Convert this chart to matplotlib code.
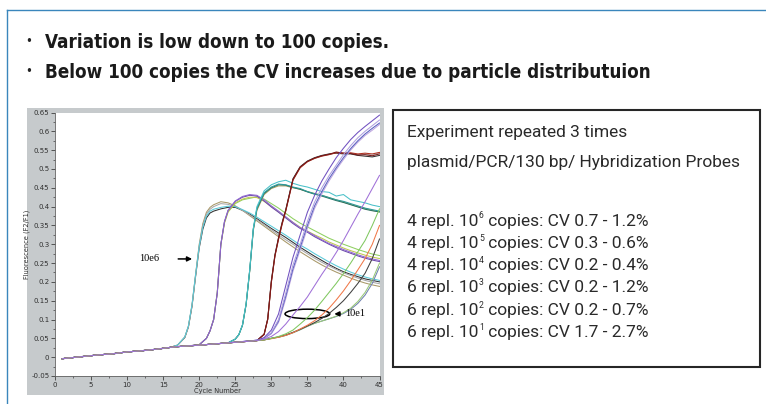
import matplotlib
matplotlib.use("Agg")
import matplotlib.pyplot as plt
from matplotlib.patches import Rectangle, Ellipse
from matplotlib.lines import Line2D
from matplotlib.ticker import MultipleLocator
from matplotlib import font_manager

W, H = 766, 404

# ─── Header bullets ───────────────────────────────────────────────────────────
BULLETS = [
    "Variation is low down to 100 copies.",
    "Below 100 copies the CV increases due to particle distributuion",
]

# ─── Summary box text ─────────────────────────────────────────────────────────
BOX_HEAD = ["Experiment repeated 3 times",
            "plasmid/PCR/130 bp/ Hybridization Probes"]
REPLICATES = [4, 4, 4, 6, 6, 6]
EXPONENTS = [6, 5, 4, 3, 2, 1]
CV_LOW = [0.7, 0.3, 0.2, 0.2, 0.2, 1.7]
CV_HIGH = [1.2, 0.6, 0.4, 1.2, 0.7, 2.7]

# ─── Amplification curves (cycle number vs fluorescence F2/F1) ───────────────
BASE_CYC = [1, 2, 4, 6, 8, 10, 12, 14, 16]
BASE_VAL = [-0.004, -0.002, 0.002, 0.006, 0.009, 0.014, 0.017, 0.021, 0.026]

# 10^6 copies
C6 = [17, 18, 18.5, 19, 19.5, 20, 20.5, 21, 21.5, 22, 23, 24, 25, 26, 27, 28,
      29, 30, 31, 32, 33, 34, 35, 36, 37, 38, 39, 40, 41, 42, 43, 44, 45]
F6 = [
    [0.032, 0.052, 0.08, 0.135, 0.215, 0.29, 0.34, 0.37, 0.383, 0.388, 0.394,
     0.398, 0.398, 0.39, 0.38, 0.368, 0.355, 0.342, 0.33, 0.318, 0.305, 0.292,
     0.28, 0.268, 0.257, 0.246, 0.236, 0.227, 0.22, 0.214, 0.208, 0.204, 0.20],
    [0.032, 0.053, 0.082, 0.138, 0.22, 0.3, 0.355, 0.385, 0.398, 0.405, 0.413,
     0.41, 0.402, 0.39, 0.376, 0.362, 0.348, 0.334, 0.32, 0.306, 0.293, 0.28,
     0.268, 0.256, 0.245, 0.235, 0.226, 0.218, 0.21, 0.203, 0.197, 0.192, 0.188],
    [0.032, 0.053, 0.081, 0.137, 0.218, 0.295, 0.35, 0.38, 0.393, 0.4, 0.408,
     0.406, 0.4, 0.39, 0.378, 0.365, 0.352, 0.338, 0.325, 0.312, 0.3, 0.287,
     0.275, 0.263, 0.252, 0.242, 0.233, 0.224, 0.217, 0.21, 0.204, 0.199, 0.195],
    [0.032, 0.054, 0.083, 0.14, 0.22, 0.295, 0.345, 0.375, 0.388, 0.393, 0.398,
     0.401, 0.4, 0.392, 0.383, 0.372, 0.36, 0.348, 0.336, 0.324, 0.311, 0.298,
     0.287, 0.275, 0.264, 0.253, 0.243, 0.234, 0.226, 0.219, 0.213, 0.208, 0.204],
]
COL6 = ["#303030", "#a89868", "#a8a8a8", "#58c8d8"]

# 10^5 copies
C5 = [17, 19, 20, 21, 21.5, 22, 22.5, 23, 23.5, 24, 25, 26, 27, 28, 29, 30, 31,
      32, 33, 34, 35, 36, 37, 38, 39, 40, 41, 42, 43, 44, 45]
F5 = [
    [0.028, 0.031, 0.033, 0.05, 0.07, 0.1, 0.172, 0.3, 0.358, 0.386, 0.408,
     0.418, 0.422, 0.426, 0.42, 0.408, 0.396, 0.382, 0.368, 0.356, 0.346, 0.336,
     0.326, 0.316, 0.308, 0.3, 0.293, 0.286, 0.28, 0.274, 0.27],
    [0.028, 0.031, 0.033, 0.05, 0.07, 0.1, 0.17, 0.298, 0.356, 0.386, 0.41,
     0.42, 0.425, 0.424, 0.414, 0.4, 0.386, 0.372, 0.358, 0.345, 0.335, 0.325,
     0.316, 0.306, 0.298, 0.29, 0.283, 0.277, 0.271, 0.266, 0.262],
    [0.028, 0.031, 0.033, 0.05, 0.07, 0.1, 0.17, 0.3, 0.36, 0.39, 0.414, 0.425,
     0.43, 0.428, 0.415, 0.399, 0.385, 0.37, 0.355, 0.342, 0.332, 0.32, 0.31,
     0.3, 0.291, 0.283, 0.276, 0.269, 0.263, 0.258, 0.254],
    [0.028, 0.031, 0.033, 0.05, 0.07, 0.1, 0.17, 0.3, 0.36, 0.39, 0.415, 0.427,
     0.432, 0.43, 0.418, 0.402, 0.388, 0.373, 0.358, 0.344, 0.334, 0.323, 0.312,
     0.302, 0.294, 0.286, 0.279, 0.272, 0.266, 0.261, 0.257],
]
COL5 = ["#8fd060", "#c0c850", "#6a48a8", "#9068d0"]

# 10^4 copies
C4 = [17, 20, 22, 24, 25, 25.5, 26, 26.5, 27, 27.5, 28, 29, 30, 31, 32, 33,
      34, 35, 36, 37, 38, 39, 40, 41, 42, 43, 44, 45]
F4 = [
    [0.028, 0.032, 0.035, 0.038, 0.048, 0.06, 0.085, 0.14, 0.228, 0.336, 0.39,
     0.432, 0.448, 0.455, 0.455, 0.45, 0.446, 0.44, 0.435, 0.43, 0.424, 0.418,
     0.412, 0.406, 0.4, 0.395, 0.39, 0.386],
    [0.028, 0.032, 0.035, 0.038, 0.048, 0.06, 0.085, 0.14, 0.23, 0.34, 0.394,
     0.435, 0.45, 0.458, 0.457, 0.451, 0.446, 0.439, 0.433, 0.428, 0.422,
     0.416, 0.411, 0.405, 0.399, 0.393, 0.389, 0.386],
    [0.028, 0.032, 0.035, 0.038, 0.048, 0.06, 0.085, 0.14, 0.23, 0.34, 0.395,
     0.437, 0.452, 0.46, 0.458, 0.452, 0.448, 0.44, 0.434, 0.43, 0.424, 0.418,
     0.414, 0.408, 0.402, 0.396, 0.392, 0.388],
    [0.028, 0.032, 0.035, 0.038, 0.048, 0.06, 0.086, 0.142, 0.232, 0.342, 0.4,
     0.442, 0.458, 0.466, 0.47, 0.462, 0.456, 0.452, 0.446, 0.44, 0.438, 0.428,
     0.432, 0.418, 0.414, 0.41, 0.404, 0.4],
]
COL4 = ["#a8a060", "#2a7060", "#2a9a9a", "#48c0c8"]

# 10^3 copies
C3 = [17, 20, 24, 28, 29, 29.5, 30, 30.5, 31, 31.5, 32, 33, 34, 35, 36, 37,
      38, 39, 40, 41, 42, 43, 44, 45]
F3 = [
    [0.028, 0.032, 0.038, 0.044, 0.06, 0.1, 0.2, 0.27, 0.315, 0.355, 0.39,
     0.472, 0.505, 0.52, 0.528, 0.535, 0.538, 0.544, 0.541, 0.542, 0.538, 0.54,
     0.537, 0.543],
    [0.028, 0.032, 0.038, 0.044, 0.061, 0.102, 0.203, 0.272, 0.318, 0.358,
     0.392, 0.474, 0.506, 0.521, 0.53, 0.536, 0.54, 0.542, 0.54, 0.54, 0.536,
     0.534, 0.532, 0.536],
    [0.028, 0.032, 0.038, 0.044, 0.06, 0.1, 0.198, 0.268, 0.313, 0.353, 0.388,
     0.47, 0.503, 0.519, 0.528, 0.534, 0.538, 0.543, 0.542, 0.543, 0.54, 0.542,
     0.54, 0.544],
    [0.028, 0.032, 0.038, 0.044, 0.061, 0.101, 0.2, 0.27, 0.316, 0.356, 0.39,
     0.472, 0.505, 0.52, 0.529, 0.535, 0.539, 0.545, 0.542, 0.541, 0.537,
     0.538, 0.535, 0.54],
]
COL3 = ["#b8b8b8", "#303030", "#b03020", "#7a1818"]

# 10^2 copies
C2 = [17, 20, 24, 28, 29, 30, 31, 32, 33, 34, 35, 36, 37, 38, 39, 40, 41, 42,
      43, 44, 45]
F2 = [
    [0.028, 0.032, 0.038, 0.045, 0.05, 0.062, 0.092, 0.155, 0.228, 0.285,
     0.342, 0.395, 0.434, 0.468, 0.498, 0.525, 0.55, 0.571, 0.589, 0.603, 0.618],
    [0.028, 0.032, 0.038, 0.045, 0.05, 0.064, 0.096, 0.162, 0.235, 0.292, 0.35,
     0.402, 0.44, 0.474, 0.503, 0.53, 0.554, 0.575, 0.593, 0.608, 0.622],
    [0.028, 0.032, 0.038, 0.045, 0.05, 0.065, 0.1, 0.17, 0.245, 0.3, 0.36,
     0.412, 0.45, 0.482, 0.51, 0.538, 0.562, 0.583, 0.6, 0.615, 0.63],
    [0.028, 0.032, 0.038, 0.045, 0.052, 0.072, 0.115, 0.19, 0.265, 0.325,
     0.385, 0.43, 0.468, 0.5, 0.53, 0.555, 0.578, 0.597, 0.613, 0.628, 0.643],
]
COL2 = ["#c0a8e0", "#5a60c0", "#b0a0e0", "#7050c0"]

# 10^1 copies
C1 = [17, 20, 24, 28, 29, 30, 31, 32, 33, 34, 35, 36, 37, 38, 39, 40, 41, 42,
      43, 44, 45]
F1 = [
    [0.028, 0.032, 0.038, 0.044, 0.046, 0.05, 0.053, 0.058, 0.065, 0.073,
     0.082, 0.09, 0.096, 0.102, 0.108, 0.116, 0.127, 0.143, 0.165, 0.196, 0.24],
    [0.028, 0.032, 0.038, 0.044, 0.046, 0.05, 0.053, 0.058, 0.065, 0.073,
     0.082, 0.09, 0.096, 0.102, 0.109, 0.118, 0.13, 0.148, 0.172, 0.205, 0.25],
    [0.028, 0.032, 0.038, 0.044, 0.046, 0.05, 0.054, 0.059, 0.066, 0.074,
     0.083, 0.092, 0.103, 0.116, 0.132, 0.15, 0.172, 0.196, 0.223, 0.262, 0.314],
    [0.028, 0.032, 0.038, 0.044, 0.046, 0.049, 0.053, 0.058, 0.065, 0.075,
     0.085, 0.097, 0.112, 0.13, 0.152, 0.176, 0.203, 0.232, 0.262, 0.3, 0.35],
    [0.028, 0.032, 0.038, 0.044, 0.046, 0.05, 0.055, 0.062, 0.072, 0.088,
     0.105, 0.125, 0.148, 0.172, 0.196, 0.222, 0.25, 0.28, 0.31, 0.35, 0.394],
    [0.028, 0.032, 0.038, 0.044, 0.048, 0.055, 0.068, 0.088, 0.112, 0.135,
     0.16, 0.19, 0.22, 0.248, 0.278, 0.31, 0.345, 0.38, 0.413, 0.448, 0.483],
]
COL1 = ["#7080b0", "#98c878", "#404040", "#f07848", "#80c860", "#a070d8"]

GROUPS = [(C6, F6, COL6), (C5, F5, COL5), (C4, F4, COL4),
          (C3, F3, COL3), (C2, F2, COL2), (C1, F1, COL1)]


def fx(px):
    return px / W


def fy(py):
    return 1 - py / H


fig = plt.figure(figsize=(W / 100, H / 100), dpi=100)
fig.patch.set_facecolor("white")
renderer = fig.canvas.get_renderer()

# blue frame, left and top
fig.add_artist(Line2D([fx(7), fx(7)], [fy(10), fy(404)], color="#3a86bc",
                      lw=1.0, transform=fig.transFigure))
fig.add_artist(Line2D([fx(7), fx(766)], [fy(10), fy(10)], color="#3a86bc",
                      lw=1.0, transform=fig.transFigure))

# bullets -- condensed bold face
header_props = font_manager.FontProperties(family="DejaVu Sans",
                                           weight="bold", stretch="condensed",
                                           size=13.5)
for i, line in enumerate(BULLETS):
    y = fy(42 + 30 * i)
    fig.text(fx(25), y, "•", fontsize=8.5, va="center", color="#222222")
    fig.text(fx(45), y, line, fontproperties=header_props, va="center",
             color="#1a1a1a")

# grey panel behind the chart
fig.add_artist(Rectangle((fx(27), fy(395)), fx(384) - fx(27), fy(108) - fy(395),
                         transform=fig.transFigure, facecolor="#c6cacc",
                         edgecolor="none", zorder=0))

ax = fig.add_axes([fx(55), fy(376), fx(379.5) - fx(55), fy(112.5) - fy(376)])
ax.set_facecolor("white")
ax.set_zorder(2)

for cyc, rows, cols in GROUPS:
    for vals, col in zip(rows, cols):
        ax.plot(BASE_CYC + cyc, BASE_VAL + vals, color=col, lw=0.75)

ax.set_xlim(0, 45)
ax.set_ylim(-0.05, 0.65)
ax.xaxis.set_major_locator(MultipleLocator(5))
ax.xaxis.set_minor_locator(MultipleLocator(2.5))
ax.yaxis.set_major_locator(MultipleLocator(0.05))
ax.yaxis.set_minor_locator(MultipleLocator(0.025))
ax.yaxis.set_major_formatter(lambda v, p: f"{v:.2f}".rstrip("0").rstrip(".")
                             if abs(v) > 1e-9 else "0")
for s in ["top", "right"]:
    ax.spines[s].set_visible(False)
for s in ["left", "bottom"]:
    ax.spines[s].set_color("#606060")
    ax.spines[s].set_linewidth(0.6)
ax.tick_params(which="major", length=3, width=0.6, color="#404040",
               labelsize=5, labelcolor="#303030", pad=1)
ax.tick_params(which="minor", length=1.5, width=0.5, color="#404040")
ax.set_xlabel("Cycle Number", fontsize=4.8, labelpad=0, color="#303030")
ax.set_ylabel("Fluorescence (F2/F1)", fontsize=4.8, labelpad=1, color="#303030")

# annotations
serif = ["Liberation Serif", "DejaVu Serif"]
ax.text(11.6, 0.261, "10e6", family=serif, fontsize=7.5, va="center")
ax.annotate("", xy=(19.4, 0.261), xytext=(16.7, 0.261),
            arrowprops=dict(arrowstyle="-|>", color="black", lw=1.1,
                            mutation_scale=7))
ax.add_patch(Ellipse((35.0, 0.115), 6.2, 0.025, fill=False, ec="black", lw=1.1))
ax.annotate("", xy=(38.35, 0.115), xytext=(39.9, 0.115),
            arrowprops=dict(arrowstyle="-|>", color="black", lw=1.1,
                            mutation_scale=7))
ax.text(40.3, 0.115, "10e1", family=serif, fontsize=7.5, va="center")

# summary box
fig.add_artist(Rectangle((fx(393), fy(367)), fx(760) - fx(393), fy(110) - fy(367),
                         transform=fig.transFigure, facecolor="white",
                         edgecolor="#262626", lw=1.5))
box_font = ["Roboto", "DejaVu Sans"]
BOX_SIZE = 12.5
for i, line in enumerate(BOX_HEAD):
    fig.text(fx(407), fy(133 + 29 * i), line, fontsize=BOX_SIZE,
             family=box_font, va="center", color="#2a2a2a")


def put_run(x_px, y, s, size, dy=0.0):
    """Draw one text run at x (pixels) and return the pixel x where it ends."""
    t = fig.text(fx(x_px), y + dy, s, fontsize=size, family=box_font,
                 va="center", color="#2a2a2a")
    return t.get_window_extent(renderer).x1


for i in range(len(REPLICATES)):
    y = fy(221 + 22.3 * i)
    x = put_run(407, y, f"{REPLICATES[i]} repl. 10", BOX_SIZE)
    x = put_run(x + 0.5, y, str(EXPONENTS[i]), BOX_SIZE * 0.5, dy=5 / H)
    put_run(x, y, f" copies: CV {CV_LOW[i]} - {CV_HIGH[i]}%", BOX_SIZE)

fig.savefig("out.png", dpi=100)
